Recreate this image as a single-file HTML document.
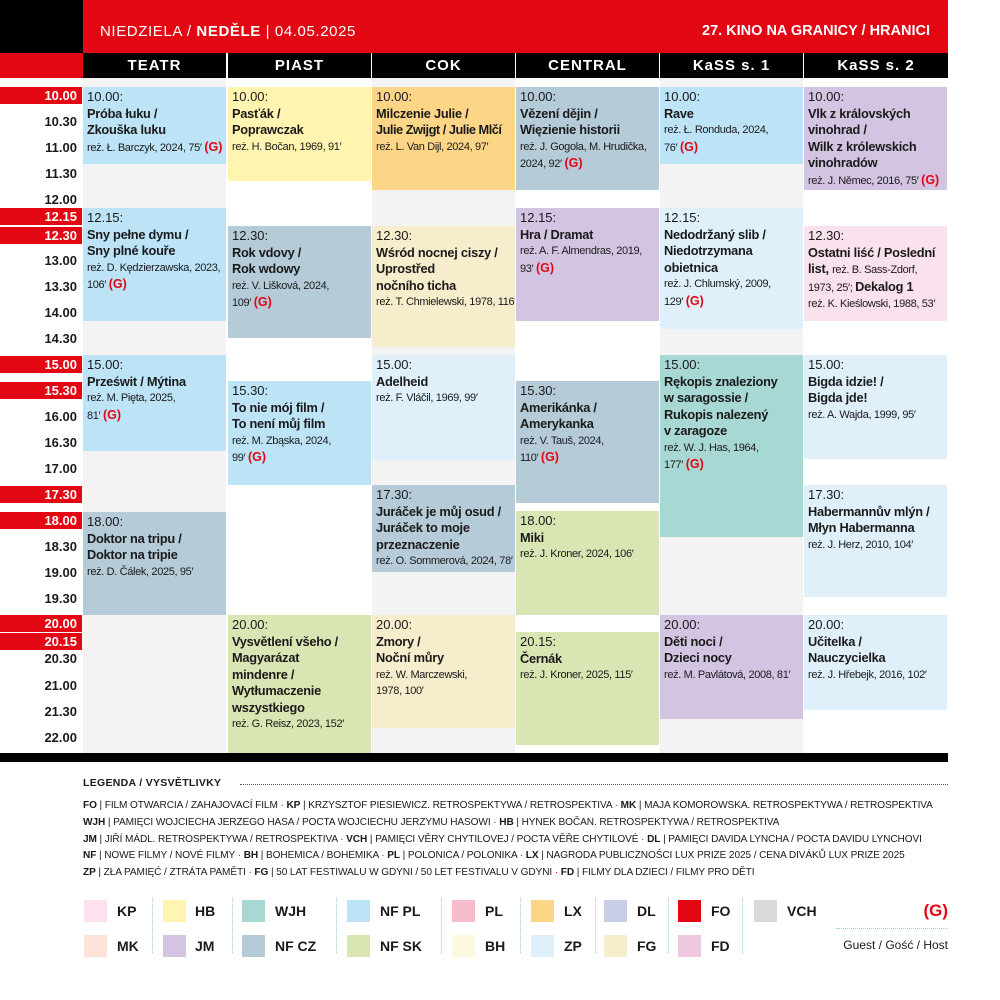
<!DOCTYPE html>
<html><head><meta charset="utf-8"><style>
*{margin:0;padding:0;box-sizing:border-box}
body{width:1000px;height:1000px;background:#fff;position:relative;overflow:hidden;font-family:"Liberation Sans",sans-serif;color:#1a1a1a}
div{position:absolute}
.colbg{background:#f3f3f3;top:78px;height:675px;width:143px}
.ch{top:53px;height:25px;background:#000;color:#fff;font-weight:bold;font-size:15px;letter-spacing:1px;text-align:center;line-height:25px;width:143px}
.t{left:0;width:77px;text-align:right;font-weight:bold;font-size:13px;height:17px;line-height:17px}
.r{background:#e30613;color:#fff;width:82px;padding-right:5px}
.b{width:143px;padding:2px 0 0 4px;font-size:13px;line-height:16.5px;overflow:hidden}
.b b{display:block;font-weight:bold;font-size:12.8px;letter-spacing:-0.25px;white-space:nowrap}
.b i{display:block;font-style:normal;font-size:11px;letter-spacing:-0.35px;line-height:16.5px;white-space:nowrap}
.g{color:#e30613;font-weight:bold;font-size:12.5px;letter-spacing:0}
.leg{left:83px;font-size:10.1px;white-space:nowrap;letter-spacing:-0.1px}
.leg b{font-weight:bold}
.d{color:#e30613}
.sw{width:23px;height:22px}
.sl{font-weight:bold;font-size:14px;line-height:22px}
.vs{width:0;height:55px;border-left:1px dotted #9cc;top:898px}
</style></head><body>
<div style="left:0;top:0;width:83px;height:53px;background:#000"></div>
<div style="left:83px;top:0;width:865px;height:53px;background:#e30613"></div>
<div style="left:100px;top:23px;color:#fff;font-size:15px;letter-spacing:0.6px;white-space:nowrap">NIEDZIELA / <b>NEDĚLE</b> | 04.05.2025</div>
<div style="left:660px;top:23px;width:270px;text-align:right;color:#fff;font-size:14.5px;font-weight:bold;white-space:nowrap">27. KINO NA GRANICY / HRANICI</div>
<div style="left:0;top:53px;width:83px;height:25px;background:#e30613"></div>

<div class="colbg" style="left:83px"></div>
<div class="colbg" style="left:372px"></div>
<div class="colbg" style="left:660px"></div>

<div class="ch" style="left:83px">TEATR</div>
<div class="ch" style="left:228px">PIAST</div>
<div class="ch" style="left:372px">COK</div>
<div class="ch" style="left:516px">CENTRAL</div>
<div class="ch" style="left:660px">KaSS s. 1</div>
<div class="ch" style="left:804px;width:144px">KaSS s. 2</div>

<div class="t r" style="top:87px">10.00</div>
<div class="t" style="top:113px">10.30</div>
<div class="t" style="top:139px">11.00</div>
<div class="t" style="top:165px">11.30</div>
<div class="t" style="top:191px">12.00</div>
<div class="t r" style="top:208px">12.15</div>
<div class="t r" style="top:227px">12.30</div>
<div class="t" style="top:252px">13.00</div>
<div class="t" style="top:278px">13.30</div>
<div class="t" style="top:304px">14.00</div>
<div class="t" style="top:330px">14.30</div>
<div class="t r" style="top:356px">15.00</div>
<div class="t r" style="top:382px">15.30</div>
<div class="t" style="top:408px">16.00</div>
<div class="t" style="top:434px">16.30</div>
<div class="t" style="top:460px">17.00</div>
<div class="t r" style="top:486px">17.30</div>
<div class="t r" style="top:512px">18.00</div>
<div class="t" style="top:538px">18.30</div>
<div class="t" style="top:564px">19.00</div>
<div class="t" style="top:590px">19.30</div>
<div class="t r" style="top:615px">20.00</div>
<div class="t r" style="top:633px">20.15</div>
<div class="t" style="top:650px">20.30</div>
<div class="t" style="top:677px">21.00</div>
<div class="t" style="top:703px">21.30</div>
<div class="t" style="top:729px">22.00</div>

<!-- TEATR -->
<div class="b" style="left:83px;top:87px;height:77px;background:#bde3f7">10.00:<b>Próba łuku /<br>Zkouška luku</b><i>reż. Ł. Barczyk, 2024, 75′ <span class="g">(G)</span></i></div>
<div class="b" style="left:83px;top:208px;height:113px;background:#bde3f7">12.15:<b>Sny pełne dymu /<br>Sny plné kouře</b><i>reż. D. Kędzierzawska, 2023,<br>106′ <span class="g">(G)</span></i></div>
<div class="b" style="left:83px;top:355px;height:96px;background:#bde3f7">15.00:<b>Prześwit / Mýtina</b><i>reż. M. Pięta, 2025,<br>81′ <span class="g">(G)</span></i></div>
<div class="b" style="left:83px;top:512px;height:103px;background:#b6cbd8">18.00:<b>Doktor na tripu /<br>Doktor na tripie</b><i>reż. D. Čálek, 2025, 95′</i></div>
<!-- PIAST -->
<div class="b" style="left:228px;top:87px;height:94px;background:#fff5b0">10.00:<b>Pasťák /<br>Poprawczak</b><i>reż. H. Bočan, 1969, 91′</i></div>
<div class="b" style="left:228px;top:226px;height:112px;background:#b6cbd8">12.30:<b>Rok vdovy /<br>Rok wdowy</b><i>reż. V. Lišková, 2024,<br>109′ <span class="g">(G)</span></i></div>
<div class="b" style="left:228px;top:381px;height:104px;background:#bde3f7">15.30:<b>To nie mój film /<br>To není můj film</b><i>reż. M. Zbąska, 2024,<br>99′ <span class="g">(G)</span></i></div>
<div class="b" style="left:228px;top:615px;height:138px;background:#d9e6b4">20.00:<b>Vysvětlení všeho /<br>Magyarázat<br>mindenre /<br>Wytłumaczenie<br>wszystkiego</b><i>reż. G. Reisz, 2023, 152′</i></div>
<!-- COK -->
<div class="b" style="left:372px;top:87px;height:103px;background:#fdd587">10.00:<b>Milczenie Julie /<br><span style="letter-spacing:-0.5px">Julie Zwijgt / Julie Mlčí</span></b><i>reż. L. Van Dijl, 2024, 97′</i></div>
<div class="b" style="left:372px;top:226px;height:121px;background:#f6edcc">12.30:<b>Wśród nocnej ciszy /<br>Uprostřed<br>nočního ticha</b><i>reż. T. Chmielewski, 1978, 116′</i></div>
<div class="b" style="left:372px;top:355px;height:105px;background:#dff0fb">15.00:<b>Adelheid</b><i>reż. F. Vláčil, 1969, 99′</i></div>
<div class="b" style="left:372px;top:485px;height:87px;background:#b6cbd8">17.30:<b>Juráček je můj osud /<br>Juráček to moje<br>przeznaczenie</b><i>reż. O. Sommerová, 2024, 78′</i></div>
<div class="b" style="left:372px;top:615px;height:113px;background:#f6edcc">20.00:<b>Zmory /<br>Noční můry</b><i>reż. W. Marczewski,<br>1978, 100′</i></div>
<!-- CENTRAL -->
<div class="b" style="left:516px;top:87px;height:103px;background:#b6cbd8">10.00:<b>Vězení dějin /<br>Więzienie historii</b><i>reż. J. Gogola, M. Hrudička,<br>2024, 92′ <span class="g">(G)</span></i></div>
<div class="b" style="left:516px;top:208px;height:113px;background:#d3c4e2">12.15:<b>Hra / Dramat</b><i>reż. A. F. Almendras, 2019,<br>93′ <span class="g">(G)</span></i></div>
<div class="b" style="left:516px;top:381px;height:122px;background:#b6cbd8">15.30:<b>Amerikánka /<br>Amerykanka</b><i>reż. V. Tauš, 2024,<br>110′ <span class="g">(G)</span></i></div>
<div class="b" style="left:516px;top:511px;height:104px;background:#d9e6b4">18.00:<b>Miki</b><i>reż. J. Kroner, 2024, 106′</i></div>
<div class="b" style="left:516px;top:632px;height:113px;background:#d9e6b4">20.15:<b>Černák</b><i>reż. J. Kroner, 2025, 115′</i></div>
<!-- KaSS 1 -->
<div class="b" style="left:660px;top:87px;height:77px;background:#bde3f7">10.00:<b>Rave</b><i>reż. Ł. Ronduda, 2024,<br>76′ <span class="g">(G)</span></i></div>
<div class="b" style="left:660px;top:208px;height:121px;background:#dff0fb">12.15:<b>Nedodržaný slib /<br>Niedotrzymana<br>obietnica</b><i>reż. J. Chlumský, 2009,<br>129′ <span class="g">(G)</span></i></div>
<div class="b" style="left:660px;top:355px;height:182px;background:#a7d8d3">15.00:<b>Rękopis znaleziony<br>w saragossie /<br>Rukopis nalezený<br>v zaragoze</b><i>reż. W. J. Has, 1964,<br>177′ <span class="g">(G)</span></i></div>
<div class="b" style="left:660px;top:615px;height:104px;background:#d3c4e2">20.00:<b>Děti noci /<br>Dzieci nocy</b><i>reż. M. Pavlátová, 2008, 81′</i></div>
<!-- KaSS 2 -->
<div class="b" style="left:804px;top:87px;height:103px;background:#d3c4e2">10.00:<b>Vlk z královských<br>vinohrad /<br>Wilk z królewskich<br>vinohradów</b><i>reż. J. Němec, 2016, 75′ <span class="g">(G)</span></i></div>
<div class="b" style="left:804px;top:226px;height:95px;background:#fae1ee">12.30:<b>Ostatni liść / Poslední<br>list, <span style="font-weight:normal;font-size:11px;letter-spacing:-0.35px">reż. B. Sass-Zdorf,</span></b><i>1973, 25′; <b style="display:inline;font-size:12.8px">Dekalog 1</b><br>reż. K. Kieślowski, 1988, 53′</i></div>
<div class="b" style="left:804px;top:355px;height:104px;background:#dff0fb">15.00:<b>Bigda idzie! /<br>Bigda jde!</b><i>reż. A. Wajda, 1999, 95′</i></div>
<div class="b" style="left:804px;top:485px;height:112px;background:#dff0fb">17.30:<b>Habermannův mlýn /<br>Młyn Habermanna</b><i>reż. J. Herz, 2010, 104′</i></div>
<div class="b" style="left:804px;top:615px;height:95px;background:#dff0fb">20.00:<b>Učitelka /<br>Nauczycielka</b><i>reż. J. Hřebejk, 2016, 102′</i></div>

<div style="left:0;top:753px;width:948px;height:9px;background:#000"></div>

<!-- Legend -->
<div class="leg" style="top:777px;font-weight:bold;font-size:10.5px;letter-spacing:0.3px">LEGENDA / VYSVĚTLIVKY</div>
<div style="left:240px;top:784px;width:708px;border-top:1.5px dotted #555"></div>
<div class="leg" style="top:800px"><b>FO</b> | FILM OTWARCIA / ZAHAJOVACÍ FILM <span class="d">·</span> <b>KP</b> | KRZYSZTOF PIESIEWICZ. RETROSPEKTYWA / RETROSPEKTIVA <span class="d">·</span> <b>MK</b> | MAJA KOMOROWSKA. RETROSPEKTYWA / RETROSPEKTIVA</div>
<div class="leg" style="top:817px"><b>WJH</b> | PAMIĘCI WOJCIECHA JERZEGO HASA / POCTA WOJCIECHU JERZYMU HASOWI <span class="d">·</span> <b>HB</b> | HYNEK BOČAN. RETROSPEKTYWA / RETROSPEKTIVA</div>
<div class="leg" style="top:834px"><b>JM</b> | JIŘÍ MÁDL. RETROSPEKTYWA / RETROSPEKTIVA <span class="d">·</span> <b>VCH</b> | PAMIĘCI VĚRY CHYTILOVEJ / POCTA VĚŘE CHYTILOVÉ <span class="d">·</span> <b>DL</b> | PAMIĘCI DAVIDA LYNCHA / POCTA DAVIDU LYNCHOVI</div>
<div class="leg" style="top:850px"><b>NF</b> | NOWE FILMY / NOVÉ FILMY <span class="d">·</span> <b>BH</b> | BOHEMICA / BOHEMIKA <span class="d">·</span> <b>PL</b> | POLONICA / POLONIKA <span class="d">·</span> <b>LX</b> | NAGRODA PUBLICZNOŚCI LUX PRIZE 2025 / CENA DIVÁKŮ LUX PRIZE 2025</div>
<div class="leg" style="top:867px"><b>ZP</b> | ZŁA PAMIĘĆ / ZTRÁTA PAMĚTI <span class="d">·</span> <b>FG</b> | 50 LAT FESTIWALU W GDYNI / 50 LET FESTIVALU V GDYNI <span class="d">·</span> <b>FD</b> | FILMY DLA DZIECI / FILMY PRO DĚTI</div>

<div class="sw" style="left:84px;top:900px;background:#fbe2ee"></div><div class="sl" style="left:117px;top:900px">KP</div>
<div class="sw" style="left:84px;top:935px;background:#fde3d6"></div><div class="sl" style="left:117px;top:935px">MK</div>
<div class="vs" style="left:152px"></div>
<div class="sw" style="left:163px;top:900px;background:#fff5b0"></div><div class="sl" style="left:195px;top:900px">HB</div>
<div class="sw" style="left:163px;top:935px;background:#d3c4e2"></div><div class="sl" style="left:195px;top:935px">JM</div>
<div class="vs" style="left:232px"></div>
<div class="sw" style="left:242px;top:900px;background:#a7d8d3"></div><div class="sl" style="left:275px;top:900px">WJH</div>
<div class="sw" style="left:242px;top:935px;background:#b6cbd8"></div><div class="sl" style="left:275px;top:935px">NF CZ</div>
<div class="vs" style="left:336px"></div>
<div class="sw" style="left:347px;top:900px;background:#bde3f7"></div><div class="sl" style="left:380px;top:900px">NF PL</div>
<div class="sw" style="left:347px;top:935px;background:#d9e6b4"></div><div class="sl" style="left:380px;top:935px">NF SK</div>
<div class="vs" style="left:441px"></div>
<div class="sw" style="left:452px;top:900px;background:#f5bccb"></div><div class="sl" style="left:485px;top:900px">PL</div>
<div class="sw" style="left:452px;top:935px;background:#fdf8e0"></div><div class="sl" style="left:485px;top:935px">BH</div>
<div class="vs" style="left:520px"></div>
<div class="sw" style="left:531px;top:900px;background:#fdd587"></div><div class="sl" style="left:564px;top:900px">LX</div>
<div class="sw" style="left:531px;top:935px;background:#dff0fb"></div><div class="sl" style="left:564px;top:935px">ZP</div>
<div class="vs" style="left:595px"></div>
<div class="sw" style="left:604px;top:900px;background:#c8cde8"></div><div class="sl" style="left:637px;top:900px">DL</div>
<div class="sw" style="left:604px;top:935px;background:#f6edcc"></div><div class="sl" style="left:637px;top:935px">FG</div>
<div class="vs" style="left:668px"></div>
<div class="sw" style="left:678px;top:900px;background:#e30613"></div><div class="sl" style="left:711px;top:900px">FO</div>
<div class="sw" style="left:678px;top:935px;background:#efc7e0"></div><div class="sl" style="left:711px;top:935px">FD</div>
<div class="vs" style="left:742px"></div>
<div class="sw" style="left:754px;top:900px;background:#d9d9d9"></div><div class="sl" style="left:787px;top:900px">VCH</div>
<div style="left:900px;top:900px;width:48px;text-align:right;color:#e30613;font-weight:bold;font-size:17px;line-height:22px">(G)</div>
<div style="left:836px;top:928px;width:112px;border-top:1.5px dotted #9cc"></div>
<div style="left:820px;top:938px;width:128px;text-align:right;font-size:12px;white-space:nowrap">Guest / Gość / Host</div>
</body></html>
